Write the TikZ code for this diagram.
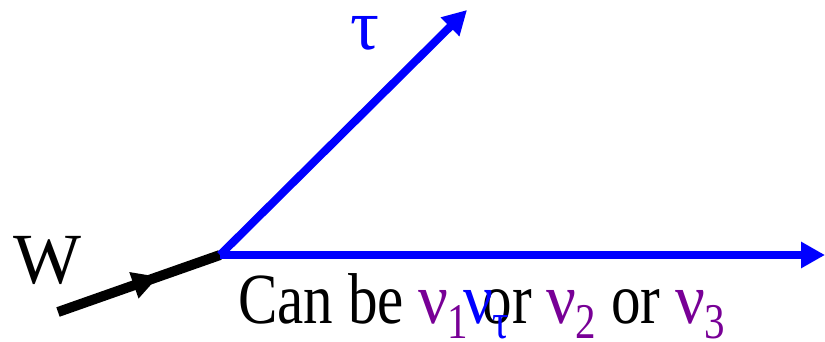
\documentclass[tikz,border=0pt]{standalone}
\usepackage{fontspec}
\setmainfont{Liberation Serif}
\usetikzlibrary{arrows.meta,decorations.markings}
\definecolor{nupurple}{RGB}{120,0,150}
\definecolor{fblue}{RGB}{0,0,255}
\tikzset{
  bigtext/.style={font=\fontsize{72}{72}\selectfont, inner sep=0pt},
  fermion/.style={fblue, line width=8pt, -{Triangle[length=24pt,width=25pt]}},
  boson/.style={black, line width=10pt,
    postaction={decorate},
    decoration={markings, mark=at position 0.62 with {\arrow{Triangle[length=26pt,width=26pt]}}}}
}
\newcommand{\nusub}[2]{\textcolor{#1}{\scalebox{1.12}[1]{ν}\kern-1pt\raisebox{-15pt}{\fontsize{50}{50}\selectfont #2}}}
\begin{document}
\begin{tikzpicture}[x=1pt,y=-1pt]
\useasboundingbox (0,0) rectangle (825,342);
\coordinate (v) at (220,255);
\coordinate (wstart) at (58,312);
\coordinate (tauend) at (467,10);
\coordinate (nuend) at (825,255);
\draw[boson] (wstart) -- (v);
\draw[fermion] (v) -- (tauend);
\draw[fermion] (v) -- (nuend);
\node[bigtext, anchor=base west] (w) at (13,283) {W};
\node[bigtext, text=fblue, anchor=base west] (tau) at (350,50) {τ};
\node[bigtext, anchor=base west] (can) at (238,323) {\scalebox{0.82}[1]{Can be \nusub{nupurple}{1} or \nusub{nupurple}{2} or \nusub{nupurple}{3}}};
\node[bigtext, anchor=base west] (nutau) at (463,323) {\scalebox{0.82}[1]{\nusub{fblue}{τ}}};
\end{tikzpicture}
\end{document}
